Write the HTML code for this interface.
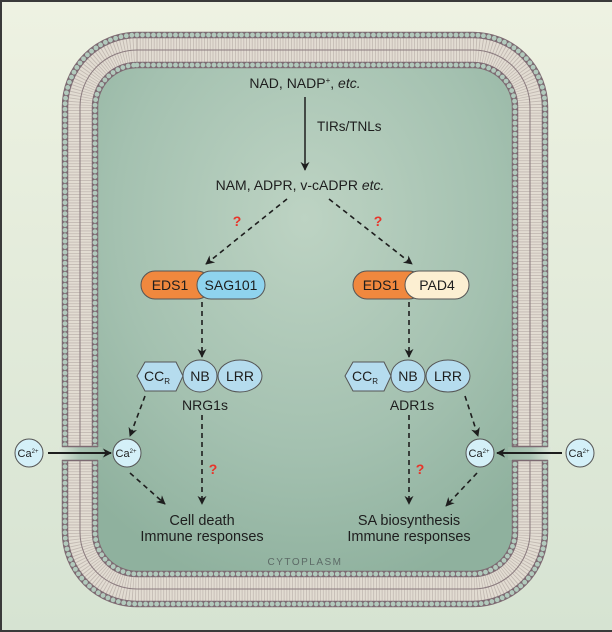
<!DOCTYPE html>
<html><head><meta charset="utf-8"><style>
html,body{margin:0;padding:0;background:#e6ecdc}
svg{display:block}
text{font-family:"Liberation Sans",sans-serif;fill:#1e1e1e}
text.q{fill:#e8342a}
</style></head><body>
<svg width="612" height="632" viewBox="0 0 612 632" xmlns="http://www.w3.org/2000/svg">
<defs>
<linearGradient id="bg" x1="0" y1="0" x2="0" y2="1"><stop offset="0" stop-color="#eef2e2"/><stop offset="1" stop-color="#d6e3d2"/></linearGradient>
<radialGradient id="cyto" cx="0.5" cy="0.3" r="0.75"><stop offset="0" stop-color="#bdd3c3"/><stop offset="0.6" stop-color="#a4c1b0"/><stop offset="1" stop-color="#8fb19e"/></radialGradient>
<marker id="ah" viewBox="0 0 10 10" refX="9" refY="5" markerWidth="9" markerHeight="9" markerUnits="userSpaceOnUse" orient="auto"><path d="M0,0 L10,5 L0,10 L3,5 Z" fill="#1e1e1e"/></marker>
<linearGradient id="ch" x1="0" y1="0" x2="1" y2="0"><stop offset="0" stop-color="#dfe8da"/><stop offset="0.5" stop-color="#a9c3b3"/><stop offset="1" stop-color="#9dbaa8"/></linearGradient>
<linearGradient id="chr" x1="1" y1="0" x2="0" y2="0"><stop offset="0" stop-color="#dfe8da"/><stop offset="0.5" stop-color="#a9c3b3"/><stop offset="1" stop-color="#9dbaa8"/></linearGradient>
</defs>
<rect width="612" height="632" fill="url(#bg)"/>
<path d="M0,1 H612 M1,0 V632 M0,631 H612" stroke="#3a3a3a" stroke-width="2"/>
<rect x="96" y="67" width="418" height="505" rx="40" fill="url(#cyto)"/>
<g fill="none">
<rect x="80" y="50" width="450" height="539" rx="57" stroke="#e2dcd2" stroke-width="36"/>
<rect x="80" y="50" width="450" height="539" rx="57" stroke="#a89c98" stroke-width="24" stroke-dasharray="0.8 2" opacity="0.55"/>
<rect x="80" y="50" width="450" height="539" rx="57" stroke="#8a7a7e" stroke-width="1"/>
<rect x="65" y="35" width="480" height="569" rx="72" stroke="#7d6a72" stroke-width="6.5"/>
<rect x="65" y="35" width="480" height="569" rx="72" stroke="#b2cabd" stroke-width="4.8" stroke-dasharray="0 5.5" stroke-linecap="round"/>
<rect x="95" y="65" width="420" height="509" rx="42" stroke="#7d6a72" stroke-width="6.5"/>
<rect x="95" y="65" width="420" height="509" rx="42" stroke="#b2cabd" stroke-width="4.8" stroke-dasharray="0 5.5" stroke-linecap="round"/>
</g>
<rect x="58" y="447" width="44" height="13" fill="url(#ch)"/>
<rect x="508" y="447" width="44" height="13" fill="url(#chr)"/>
<path d="M62,446.5 H98 M62,460.5 H98 M512,446.5 H548 M512,460.5 H548" stroke="#7d6a72" stroke-width="1.5"/>

<text x="305" y="88" font-size="14" text-anchor="middle">NAD, NADP<tspan font-size="8" dy="-5">+</tspan><tspan dy="5">, </tspan><tspan font-style="italic">etc.</tspan></text>
<line x1="305" y1="97" x2="305" y2="170" stroke="#1e1e1e" stroke-width="1.5" marker-end="url(#ah)"/>
<text x="317" y="131" font-size="13.5">TIRs/TNLs</text>
<text x="300" y="190" font-size="14" text-anchor="middle">NAM, ADPR, v-cADPR <tspan font-style="italic">etc.</tspan></text>
<g stroke="#1e1e1e" stroke-width="1.6" stroke-dasharray="5 4" fill="none" marker-end="url(#ah)">
<line x1="287" y1="199" x2="206" y2="264"/>
<line x1="329" y1="199" x2="412" y2="264"/>
<line x1="202" y1="302" x2="202" y2="357"/>
<line x1="409" y1="302" x2="409" y2="357"/>
<line x1="145" y1="396" x2="130" y2="436"/>
<line x1="130" y1="473" x2="165" y2="504"/>
<line x1="202" y1="415" x2="202" y2="504"/>
<line x1="409" y1="415" x2="409" y2="504"/>
<line x1="465" y1="396" x2="478" y2="436"/>
<line x1="477" y1="473" x2="446" y2="506"/>
</g>
<g font-size="14" font-weight="bold" text-anchor="middle">
<text class="q" x="237" y="226">?</text><text class="q" x="378" y="226">?</text>
<text class="q" x="213" y="474">?</text><text class="q" x="420" y="474">?</text>
</g>

<g stroke="#555" stroke-width="1">
<rect x="141" y="271" width="70" height="28" rx="14" fill="#f0883e"/>
<rect x="197" y="271" width="68" height="28" rx="14" fill="#8fd3ee"/>
<rect x="353" y="271" width="70" height="28" rx="14" fill="#f0883e"/>
<rect x="405" y="271" width="64" height="28" rx="14" fill="#fcefd2"/>
</g>
<g font-size="14" text-anchor="middle">
<text x="170" y="290">EDS1</text><text x="231" y="290">SAG101</text>
<text x="381" y="290">EDS1</text><text x="437" y="290">PAD4</text>
</g>

<g stroke="#555" stroke-width="1" fill="#b5dcee">
<polygon points="137,376 145,362 176,362 183,376 176,391 145,391"/>
<ellipse cx="200" cy="376" rx="17" ry="16"/>
<ellipse cx="240" cy="376" rx="22" ry="16"/>
<polygon points="345,376 353,362 384,362 391,376 384,391 353,391"/>
<ellipse cx="408" cy="376" rx="17" ry="16"/>
<ellipse cx="448" cy="376" rx="22" ry="16"/>
</g>
<g font-size="14" text-anchor="middle">
<text x="157" y="381">CC<tspan font-size="8" dy="3">R</tspan></text><text x="200" y="381">NB</text><text x="240" y="381">LRR</text>
<text x="365" y="381">CC<tspan font-size="8" dy="3">R</tspan></text><text x="408" y="381">NB</text><text x="448" y="381">LRR</text>
<text x="205" y="410">NRG1s</text><text x="412" y="410">ADR1s</text>
</g>

<g stroke="#555" stroke-width="1" fill="#d4f0f8">
<circle cx="29" cy="453" r="14"/><circle cx="127" cy="453" r="14"/>
<circle cx="480" cy="453" r="14"/><circle cx="580" cy="453" r="14"/>
</g>
<g font-size="11" text-anchor="middle">
<text x="28" y="457">Ca<tspan font-size="6" dy="-4">2+</tspan></text>
<text x="126" y="457">Ca<tspan font-size="6" dy="-4">2+</tspan></text>
<text x="479" y="457">Ca<tspan font-size="6" dy="-4">2+</tspan></text>
<text x="579" y="457">Ca<tspan font-size="6" dy="-4">2+</tspan></text>
</g>
<line x1="48" y1="453" x2="111" y2="453" stroke="#1e1e1e" stroke-width="2" marker-end="url(#ah)"/>
<line x1="562" y1="453" x2="497" y2="453" stroke="#1e1e1e" stroke-width="2" marker-end="url(#ah)"/>

<g font-size="14.5" text-anchor="middle">
<text x="202" y="525">Cell death</text><text x="202" y="541">Immune responses</text>
<text x="409" y="525">SA biosynthesis</text><text x="409" y="541">Immune responses</text>
</g>
<text x="305" y="565" font-size="10" text-anchor="middle" letter-spacing="1.5" style="fill:#5c6a66">CYTOPLASM</text>
</svg>
</body></html>
